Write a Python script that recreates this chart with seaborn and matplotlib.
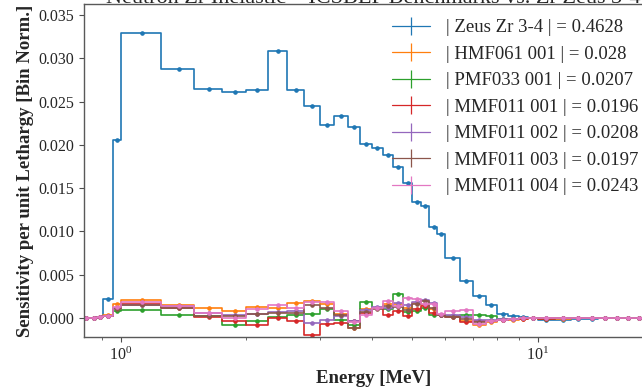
import numpy as np
import pandas as pd
import matplotlib
matplotlib.use("Agg")
import matplotlib.pyplot as plt
import seaborn as sns
from matplotlib.lines import Line2D
from matplotlib.ticker import FixedLocator, FormatStrFormatter

# ---------------- data ----------------
energy_edges = [0.80, 0.845, 0.875, 0.905, 0.955,
                1.0, 1.25, 1.5, 1.75, 2.0, 2.25, 2.5, 2.75, 3.0, 3.25, 3.5, 3.75, 4.0,
                4.25, 4.5, 4.75, 5.0, 5.25, 5.5, 5.75, 6.0,
                6.5, 7.0, 7.5, 8.0, 8.5, 9.0, 9.5, 10.0,
                11.0, 12.0, 13.0, 14.0, 15.0, 16.0, 17.0, 18.0, 19.0, 20.0]

zeus_zr_3_4 = [0.0, 0.0, 0.0001, 0.0022, 0.0206, 0.0330, 0.0288, 0.0265, 0.0261, 0.0264,
               0.0309, 0.0263, 0.0245, 0.0223, 0.0233, 0.0221, 0.0201, 0.0197, 0.0188, 0.0175,
               0.0156, 0.0134, 0.0129, 0.0105, 0.0097, 0.0069, 0.0043, 0.0025, 0.0015, 0.0005,
               0.0002, 0.0001, 0.0, -0.0002, -0.0002, -0.0001, -0.0001, 0.0, 0.0, 0.0,
               0.0, 0.0, 0.0]
hmf061_001 = [0.0, 0.0, 0.0001, 0.0003, 0.0016, 0.0021, 0.0015, 0.0011, 0.0008, 0.0013,
              0.0011, 0.0017, 0.0020, 0.0016, 0.0005, -0.0012, 0.0010, 0.0011, 0.0016, 0.0016,
              0.0012, 0.0017, 0.0015, 0.0010, 0.0003, 0.0002, -0.0003, -0.0008, -0.0005, -0.0002,
              -0.0002, -0.0001, 0.0, -0.0001, -0.0001, 0.0, 0.0, 0.0, 0.0, 0.0,
              0.0, 0.0, 0.0]
pmf033_001 = [0.0, 0.0, 0.0001, 0.0002, 0.0008, 0.0009, 0.0003, 0.0002, -0.0008, -0.0003,
              0.0001, 0.0004, 0.0005, 0.0010, -0.0002, -0.0008, 0.0018, 0.0012, 0.0010, 0.0028,
              0.0007, 0.0008, 0.0012, 0.0004, 0.0004, 0.0002, 0.0003, 0.0004, 0.0002, -0.0001,
              -0.0001, 0.0, 0.0, -0.0001, 0.0, 0.0, 0.0, 0.0, 0.0, 0.0,
              0.0, 0.0, 0.0]
mmf011_001 = [0.0, 0.0, 0.0001, 0.0002, 0.0011, 0.0016, 0.0012, 0.0001, -0.0003, -0.0008,
              0.0000, -0.0003, -0.0020, -0.0007, -0.0006, -0.0004, 0.0006, 0.0012, 0.0004, 0.0008,
              0.0002, 0.0010, 0.0014, 0.0006, 0.0003, 0.0001, -0.0005, -0.0003, -0.0003, -0.0002,
              -0.0001, -0.0001, 0.0, -0.0001, 0.0, 0.0, 0.0, 0.0, 0.0, 0.0,
              0.0, 0.0, 0.0]
mmf011_002 = [0.0, 0.0, 0.0001, 0.0002, 0.0012, 0.0015, 0.0014, 0.0006, 0.0003, 0.0005,
              0.0007, 0.0008, -0.0006, -0.0002, 0.0002, -0.0003, 0.0009, 0.0013, 0.0012, 0.0017,
              0.0015, 0.0019, 0.0021, 0.0017, 0.0004, 0.0004, 0.0001, -0.0002, -0.0002, -0.0001,
              -0.0001, 0.0, 0.0, 0.0, 0.0, 0.0, 0.0, 0.0, 0.0, 0.0,
              0.0, 0.0, 0.0]
mmf011_003 = [0.0, 0.0, 0.0001, 0.0002, 0.0010, 0.0015, 0.0012, 0.0002, 0.0002, 0.0005,
              0.0006, 0.0006, 0.0015, 0.0012, 0.0003, -0.0012, 0.0007, 0.0010, 0.0014, 0.0013,
              0.0009, 0.0016, 0.0020, 0.0012, 0.0003, 0.0001, -0.0001, -0.0005, -0.0003, -0.0002,
              -0.0001, 0.0, 0.0, 0.0, 0.0, 0.0, 0.0, 0.0, 0.0, 0.0,
              0.0, 0.0, 0.0]
mmf011_004 = [0.0, 0.0, 0.0001, 0.0002, 0.0013, 0.0018, 0.0014, 0.0006, 0.0000, 0.0010,
              0.0015, 0.0011, 0.0018, 0.0019, 0.0008, -0.0005, 0.0004, 0.0011, 0.0020, 0.0014,
              0.0023, 0.0022, 0.0016, 0.0016, 0.0005, 0.0008, 0.0009, -0.0007, -0.0004, -0.0002,
              -0.0001, 0.0, 0.0, 0.0, 0.0, 0.0, 0.0, 0.0, 0.0, 0.0,
              0.0, 0.0, 0.0]

series_labels = ["| Zeus Zr 3-4 | = 0.4628", "| HMF061 001 | = 0.028", "| PMF033 001 | = 0.0207",
                 "| MMF011 001 | = 0.0196", "| MMF011 002 | = 0.0208", "| MMF011 003 | = 0.0197",
                 "| MMF011 004 | = 0.0243"]
y_ticks = [0.000, 0.005, 0.010, 0.015, 0.020, 0.025, 0.030, 0.035]
title_text = "Neutron Zr Inelastic \u2013 ICSBEP Benchmarks vs. Zr Zeus 3-4"

series = [zeus_zr_3_4, hmf061_001, pmf033_001, mmf011_001, mmf011_002, mmf011_003, mmf011_004]

# ---------------- style ----------------
sns.set_style("ticks")
plt.rcParams["font.family"] = ["Liberation Serif", "DejaVu Serif"]
plt.rcParams["mathtext.fontset"] = "custom"
plt.rcParams["mathtext.rm"] = "Liberation Serif"
plt.rcParams["mathtext.it"] = "Liberation Serif:italic"
plt.rcParams["mathtext.bf"] = "Liberation Serif:bold"

W, H = 642, 387
fig = plt.figure(figsize=(W / 100, H / 100), dpi=100)
ax = fig.add_axes([84 / W, 50 / H, 579 / W, 333 / H])
ax.set_xscale("log")

palette = sns.color_palette("tab10", 7)
edges = np.array(energy_edges)
centers = 0.5 * (edges[:-1] + edges[1:])

for vals, col in zip(series, palette):
    v = np.array(vals)
    df = pd.DataFrame({"E": edges, "S": np.append(v, v[-1])})
    sns.lineplot(data=df, x="E", y="S", drawstyle="steps-post", color=col, lw=1.2,
                 ax=ax, legend=False, estimator=None, sort=False)
    ax.plot(centers, v, ls="none", marker="o", ms=2.3, color=col, mec=col)

ax.set_xlim(0.815, 20)
ax.set_ylim(-0.0022, 0.0363)
ax.yaxis.set_major_locator(FixedLocator(y_ticks))
ax.yaxis.set_major_formatter(FormatStrFormatter("%.3f"))
ax.tick_params(axis="both", which="major", labelsize=11.5, length=3.5, color="0.3")
ax.tick_params(axis="both", which="minor", length=2, color="0.3")
for sp in ax.spines.values():
    sp.set_color("0.35")
    sp.set_linewidth(1.0)

ax.set_xlabel("Energy [MeV]", fontsize=13.5, fontweight="bold")
ax.set_ylabel("Sensitivity per unit Lethargy [Bin Norm.]", fontsize=13.5, fontweight="bold",
              labelpad=3)

handles = [Line2D([], [], color=c, lw=0.9, marker="|", ms=13, mew=0.9) for c in palette]
ax.legend(handles, series_labels, loc="upper left",
          bbox_to_anchor=(392 / W, 1 - 19 / H), bbox_transform=fig.transFigure,
          frameon=False, fontsize=13.5, handlelength=2.0, handletextpad=0.9,
          labelspacing=0.5, borderpad=0, borderaxespad=0)

fig.text(373 / W, 1 - 3 / H, title_text, ha="center", va="baseline", fontsize=16)

fig.savefig("out.png", dpi=100)
